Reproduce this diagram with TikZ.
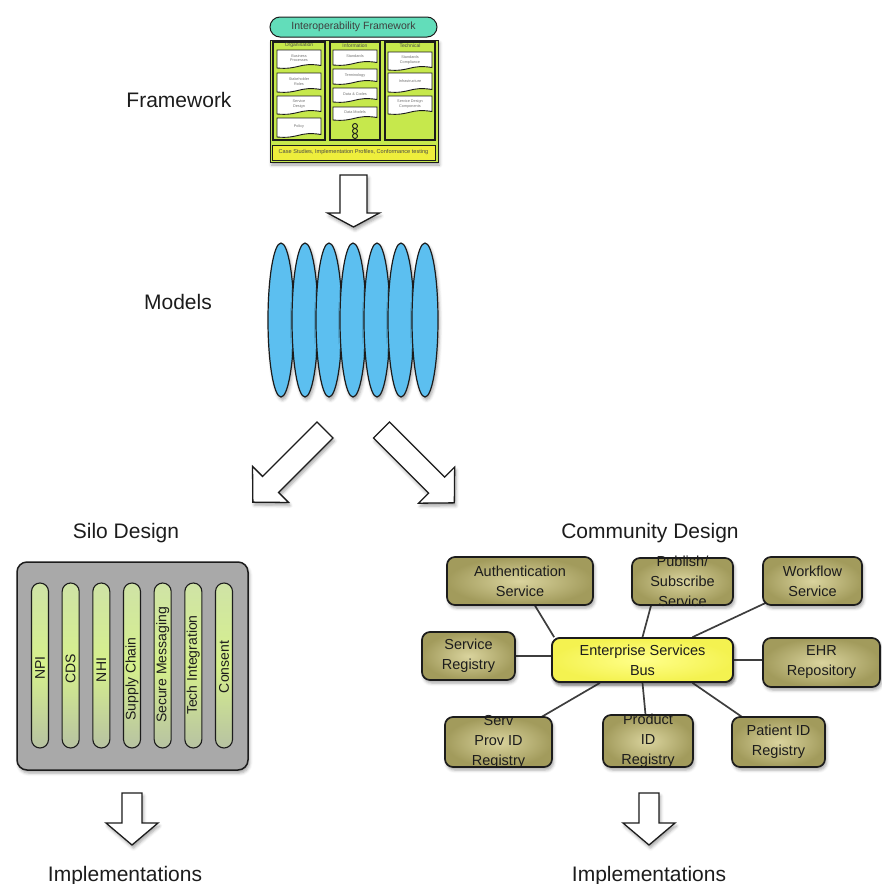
\documentclass[tikz,border=0pt]{standalone}
\usepackage{fontspec}
\setmainfont{Liberation Sans}
\usetikzlibrary{shapes.geometric,shadows.blur,calc}

\definecolor{inkdark}{HTML}{1C1C1C}
\definecolor{fwlime}{HTML}{C6E84C}
\definecolor{fwteal}{HTML}{62DDBA}
\definecolor{fwyellow}{HTML}{EEEE3C}
\definecolor{podblue}{HTML}{5CBFF0}
\definecolor{silogray}{HTML}{A9A9A9}
\definecolor{bartop}{HTML}{CFE3A6}
\definecolor{barmid}{HTML}{D6F08C}
\definecolor{barbot}{HTML}{B7C2A2}
\definecolor{svcinner}{HTML}{DAD49E}
\definecolor{svcouter}{HTML}{A29B5C}
\definecolor{businner}{HTML}{FFFF8A}
\definecolor{busouter}{HTML}{F4F250}

\tikzset{
  softshadow/.style={blur shadow={shadow xshift=1.5pt, shadow yshift=-3pt,
      shadow blur radius=3pt, shadow opacity=35}},
  biglabel/.style={font=\fontsize{21}{25}\selectfont, text=inkdark,
      inner sep=0pt, anchor=base},
  arrowbody/.style={fill=white, draw=inkdark, line width=1.3pt,
      line join=miter, softshadow},
  % block arrow: length, half shaft width, half head width, head length
  pics/blockarrow/.style n args={4}{code={
      \draw[arrowbody] (0,-#2) -- ({#1-#4},-#2) -- ({#1-#4},-#3) -- (#1,0)
        -- ({#1-#4},#3) -- ({#1-#4},#2) -- (0,#2) -- cycle;}},
  % framework miniature
  fwtitlebox/.style={rectangle, rounded corners=10pt, draw=inkdark,
      line width=1pt, fill=fwteal, minimum width=167pt, minimum height=20pt,
      inner sep=0pt, font=\fontsize{10.5}{11}\selectfont, text=inkdark!85},
  fwframe/.style={rectangle, draw=inkdark, line width=1pt, fill=fwlime,
      minimum width=168pt, minimum height=122pt, inner sep=0pt, softshadow},
  fwcol/.style={rectangle, draw=inkdark, line width=1.5pt, fill=fwlime,
      minimum height=98pt, inner sep=0pt},
  fwhead/.style={font=\fontsize{5}{6}\selectfont, text=inkdark!80,
      inner sep=0pt},
  fwbarstyle/.style={rectangle, draw=inkdark, line width=1pt, fill=fwyellow,
      minimum width=163pt, minimum height=15pt, inner sep=0pt,
      font=\fontsize{5.6}{6}\selectfont, text=inkdark!80},
  fwdocstyle/.style={fill=white, draw=inkdark, line width=0.9pt},
  fwdoctext/.style={font=\fontsize{3.8}{4.4}\selectfont, text=black!55,
      align=center, inner sep=0pt},
  fwlink/.style={circle, draw=inkdark, line width=0.9pt, fill=fwlime,
      minimum size=5pt, inner sep=0pt},
  % models
  modelpod/.style={ellipse, draw=inkdark, line width=1.2pt, fill=podblue,
      minimum width=26pt, minimum height=154pt, inner sep=0pt, softshadow},
  % silo design
  silobox/.style={rectangle, rounded corners=10pt, draw=inkdark,
      line width=1.5pt, fill=silogray, minimum width=231pt,
      minimum height=208pt, inner sep=0pt, softshadow},
  silobar/.style={rectangle, rounded corners=8.5pt, draw=inkdark,
      line width=1.1pt, top color=bartop, bottom color=barbot,
      middle color=barmid, minimum width=17pt, minimum height=165pt,
      inner sep=0pt},
  silotext/.style={rotate=90, font=\fontsize{14}{16}\selectfont,
      inner sep=0pt, text=inkdark},
  % community design
  svc/.style={rectangle, rounded corners=8pt, draw=inkdark, line width=1.7pt,
      inner color=svcinner, outer color=svcouter, inner sep=0pt, softshadow},
  bus/.style={rectangle, rounded corners=8pt, draw=inkdark, line width=1.7pt,
      inner color=businner, outer color=busouter, inner sep=0pt, softshadow},
  svctext/.style={font=\fontsize{14.5}{20}\selectfont, align=center,
      inner sep=0pt, text=inkdark},
  conn/.style={draw=inkdark!85, line width=1.7pt},
}

% a small document-shaped card of the framework miniature
\newcommand\fwdoc[6]{%
  \draw[fwdocstyle] (#2,#3) -- (#4,#3) -- (#4,{#5-2.5})
    .. controls ({(#2+#4)/2},{#5-6}) and ({(#2+#4)/2},{#5+2}) .. (#2,#5) -- cycle;
  \node[fwdoctext] (#1) at ({(#2+#4)/2},{(#3+#5)/2-1}) {#6};}

\begin{document}
\begin{tikzpicture}[x=1pt,y=-1pt]
\useasboundingbox (0,0) rectangle (882,884);

% ---------- Framework ----------
\node[biglabel] (lblframework) at (179,107) {Framework};

\node[fwframe] (fwbody) at (354,101) {};
\node[fwtitlebox] (fwtitle) at (353.5,27) {Interoperability Framework};
\node[fwcol, minimum width=52pt] (fwcolA) at (299,91) {};
\node[fwcol, minimum width=50pt] (fwcolB) at (355,91) {};
\node[fwcol, minimum width=50pt] (fwcolC) at (410,91) {};
\node[fwhead] (fwheadA) at (299,45.5) {Organisation};
\node[fwhead] (fwheadB) at (355,45.5) {Information};
\node[fwhead] (fwheadC) at (410,45.5) {Technical};

\fwdoc{docA1}{277}{50}{321}{68}{Business\\Processes}
\fwdoc{docA2}{277}{73}{321}{92}{Stakeholder\\Roles}
\fwdoc{docA3}{277}{96}{321}{114}{Service\\Design}
\fwdoc{docA4}{277}{118}{321}{137}{Policy}

\fwdoc{docB1}{333}{50}{377}{65}{Standards}
\fwdoc{docB2}{333}{69}{377}{84}{Terminology}
\fwdoc{docB3}{333}{88}{377}{102}{Data \& Codes}
\fwdoc{docB4}{333}{107}{377}{120}{Data Models}
\node[fwlink] (link1) at (355,126) {};
\node[fwlink] (link2) at (355,131) {};
\node[fwlink] (link3) at (355,136) {};

\fwdoc{docC1}{388}{52}{432}{70}{Standards\\Compliance}
\fwdoc{docC2}{388}{73}{432}{92}{Infrastructure}
\fwdoc{docC3}{388}{96}{432}{114}{Service Design\\Components}

\node[fwbarstyle] (fwbar) at (353.5,152.5)
  {Case Studies, Implementation Profiles, Conformance testing};

\path (353.5,175) pic[rotate=-90] {blockarrow={52}{13.5}{26}{14}};

% ---------- Models ----------
\node[biglabel] (lblmodels) at (178,309) {Models};
\foreach \k in {0,...,6}{
  \node[modelpod] (pod\k) at ({281+24*\k},320) {};
}

\path (325,430) pic[rotate=-135] {blockarrow={102}{11.3}{25.5}{25}};
\path (381.5,430) pic[rotate=-45] {blockarrow={103}{11.3}{25.5}{25}};

% ---------- Silo design ----------
\node[biglabel] (lblsilo) at (126,538) {Silo Design};
\node[silobox] (silo) at (132.5,666) {};
\foreach \name/\txt/\ty [count=\i from 0] in
  {npi/NPI/668, cds/CDS/669, nhi/NHI/670, supply/Supply Chain/679,
   secure/Secure Messaging/665, tech/Tech Integration/665, consent/Consent/667}{
  \node[silobar] (bar-\name) at ({40+30.67*\i},665.5) {};
  \node[silotext] (txt-\name) at ({40+30.67*\i},\ty) {\txt};
}
\path (132,793) pic[rotate=-90] {blockarrow={52}{10}{26}{22}};
\node[biglabel] (lblimplA) at (125,881) {Implementations};

% ---------- Community design ----------
\node[biglabel] (lblcomm) at (650,538) {Community Design};

% box centres
\coordinate (busc) at (642.5,660);
\coordinate (authc) at (520,581);
\coordinate (pubc) at (682.5,581.5);
\coordinate (wfc) at (812.5,581);
\coordinate (sregc) at (468.5,656);
\coordinate (ehrc) at (821.5,662.5);
\coordinate (spc) at (498.5,742);
\coordinate (prodc) at (648,741);
\coordinate (patc) at (778.5,742);

% connectors first, so the boxes sit on top of their ends
\node[bus, minimum width=181pt, minimum height=44pt] (esb) at (busc) {};
\draw[conn] (authc) -- ([xshift=3pt]esb.north west);
\draw[conn] ([xshift=-25pt]pubc) -- (esb.north);
\draw[conn] (wfc) -- ([xshift=50pt]esb.north);
\draw[conn] (sregc) -- (sregc -| esb.west);
\draw[conn] (ehrc |- esb.east) -- (esb.east);
\draw[conn] (spc) -- ([xshift=-42.5pt]esb.south);
\draw[conn] (prodc) -- (esb.south);
\draw[conn] (patc) -- ([xshift=50pt]esb.south);

\node[svc, minimum width=146pt, minimum height=48pt] (auth) at (authc) {};
\node[svc, minimum width=101pt, minimum height=47pt] (pub) at (pubc) {};
\node[svc, minimum width=99pt, minimum height=48pt] (wf) at (wfc) {};
\node[svc, minimum width=93pt, minimum height=48pt] (sreg) at (sregc) {};
\node[svc, minimum width=117pt, minimum height=49pt] (ehr) at (ehrc) {};
\node[svc, minimum width=107pt, minimum height=50pt] (sp) at (spc) {};
\node[svc, minimum width=90pt, minimum height=52pt] (prod) at (prodc) {};
\node[svc, minimum width=93pt, minimum height=50pt] (pat) at (patc) {};
\node[bus, minimum width=181pt, minimum height=44pt] (esbtop) at (busc) {};

\node[svctext] (auth-t) at (auth) {Authentication\\Service};
\node[svctext] (pub-t) at (pub) {Publish/\\Subscribe\\Service};
\node[svctext] (wf-t) at (wf) {Workflow\\Service};
\node[svctext] (sreg-t) at (sreg) {Service\\Registry};
\node[svctext] (esb-t) at (esbtop) {Enterprise Services\\Bus};
\node[svctext] (ehr-t) at (ehr) {EHR\\Repository};
\node[svctext] (sp-t) at (sp) {Serv\\Prov ID\\Registry};
\node[svctext] (prod-t) at (prod) {Product\\ID\\Registry};
\node[svctext] (pat-t) at (pat) {Patient ID\\Registry};

\path (649,793) pic[rotate=-90] {blockarrow={52}{10}{26}{22}};
\node[biglabel] (lblimplB) at (649,881) {Implementations};

\end{tikzpicture}
\end{document}
